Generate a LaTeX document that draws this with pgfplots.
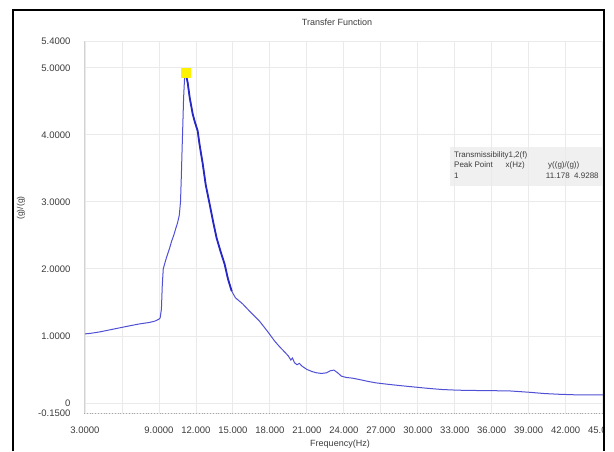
\documentclass[border=0pt]{standalone}
\usepackage{pgfplots}
\pgfplotsset{compat=1.18}
\usepackage{fontspec}
\setmainfont{Liberation Sans}
\definecolor{curve}{RGB}{80,80,215}
\definecolor{curvedark}{RGB}{40,40,200}
\definecolor{gridc}{RGB}{234,234,234}
\definecolor{txt}{RGB}{60,60,60}
\definecolor{legbg}{RGB}{240,240,240}
\begin{document}
\begin{tikzpicture}[x=1pt,y=1pt]
\useasboundingbox (0,0) rectangle (614,451);
\fill[white] (0,0) rectangle (614,451);
\begin{scope}
\clip (13,0) rectangle (603,440);
\fill[legbg] (450,265) rectangle (604,304);
\begin{axis}[
  at={(84pt,38pt)}, anchor=south west,
  scale only axis, width=531pt, height=372pt,
  xmin=2.92, xmax=46, ymin=-0.15, ymax=5.4,
  axis line style={draw=none},
  xtick={3,6,...,45},
  xticklabels={3.0000,,9.0000,12.000,15.000,18.000,21.000,24.000,27.000,30.000,33.000,36.000,39.000,42.000,45.000},
  ytick={-0.15,0,1,2,3,4,5,5.4},
  yticklabels={-0.1500,0,1.0000,2.0000,3.0000,4.0000,5.0000,5.4000},
  tick style={draw=none},
  grid=major,
  major grid style={gridc, line width=0.8pt},
  ticklabel style={font=\fontsize{9.5}{10}\selectfont, text=txt},
  yticklabel style={xshift=-10pt},
  xticklabel style={yshift=-10pt},
  clip=true,
]
\addplot[curve, line width=1pt] coordinates {
(2.92,1.03)(3.0,1.03)(3.5,1.04)(4.2,1.06)(5.0,1.09)(5.8,1.12)(6.6,1.15)(7.45,1.18)(8.2,1.20)(8.66,1.22)(9.0,1.25)(9.1,1.27)(9.2,1.40)(9.27,1.75)(9.35,2.00)(9.5,2.10)(9.63,2.18)(9.85,2.30)(10.04,2.42)(10.2,2.50)(10.36,2.60)(10.5,2.68)(10.65,2.80)(10.75,3.00)(10.82,3.40)(10.88,3.80)(10.93,4.10)(11.0,4.55)(11.08,4.85)(11.178,4.93)(11.25,4.85)(11.33,4.78)(11.5,4.55)(11.6,4.45)(11.74,4.31)(11.9,4.20)(12.14,4.06)(12.3,3.85)(12.55,3.57)(12.8,3.25)(13.11,2.97)(13.4,2.70)(13.68,2.46)(14.0,2.26)(14.33,2.07)(14.6,1.85)(14.9,1.67)(15.2,1.57)(15.78,1.48)(16.4,1.36)(17.16,1.22)(17.8,1.07)(18.4,0.92)(18.78,0.84)(19.2,0.76)(19.5,0.70)(19.7,0.64)(19.83,0.67)(20.0,0.60)(20.2,0.57)(20.4,0.59)(20.6,0.55)(21.0,0.50)(21.4,0.47)(21.77,0.45)(22.2,0.44)(22.6,0.45)(22.9,0.48)(23.2,0.49)(23.5,0.45)(23.8,0.40)(24.2,0.38)(24.7,0.37)(25.25,0.35)(26.0,0.32)(26.6,0.30)(27.5,0.28)(28.5,0.26)(29.6,0.24)(30.7,0.22)(32.0,0.20)(33.3,0.19)(35.0,0.185)(37.4,0.18)(39.0,0.16)(40.3,0.14)(41.4,0.13)(43.0,0.12)(44.9,0.12)(46,0.115)
};
\addplot[curvedark, line width=1.8pt] coordinates {
(11.178,4.93)(11.25,4.85)(11.33,4.78)(11.5,4.55)(11.6,4.45)(11.74,4.31)(11.9,4.20)(12.14,4.06)(12.3,3.85)(12.55,3.57)(12.8,3.25)(13.11,2.97)(13.4,2.70)(13.68,2.46)(14.0,2.26)(14.33,2.07)(14.6,1.85)(14.9,1.67)
};
\addplot[only marks, mark=square*, mark size=4.5pt, mark options={fill=yellow, draw=yellow}] coordinates {(11.178,4.9288)};
\draw[gray!70, dotted, line width=0.8pt] (axis cs:2.92,-0.15) -- (axis cs:46,-0.15);
\draw[gray!35, line width=0.8pt] (axis cs:2.92,-0.15) -- (axis cs:2.92,5.4);
\end{axis}
\node[anchor=center, text=txt, font=\fontsize{9}{10}\selectfont] at (337,429) {Transfer Function};
\node[anchor=center, text=txt, font=\fontsize{9}{10}\selectfont] at (340,7) {Frequency(Hz)};
\node[anchor=center, rotate=90, text=txt, font=\fontsize{8.5}{10}\selectfont] at (21,243) {(g)/(g)};
\begin{scope}[font=\fontsize{8}{8}\selectfont, text=txt, inner sep=0pt]
\node[anchor=west] at (454,296) {Transmissibility1,2(f)};
\node[anchor=west] at (454,286) {Peak Point};
\node[anchor=east] at (525,286) {x(Hz)};
\node[anchor=west] at (548,286) {y((g)/(g))};
\node[anchor=west] at (454,275) {1};
\node[anchor=east] at (570,275) {11.178};
\node[anchor=west] at (574,275) {4.9288};
\end{scope}
\end{scope}
\draw[black, line width=2pt] (12.5,0) -- (12.5,441) -- (604,441) -- (604,0);
\end{tikzpicture}
\end{document}
